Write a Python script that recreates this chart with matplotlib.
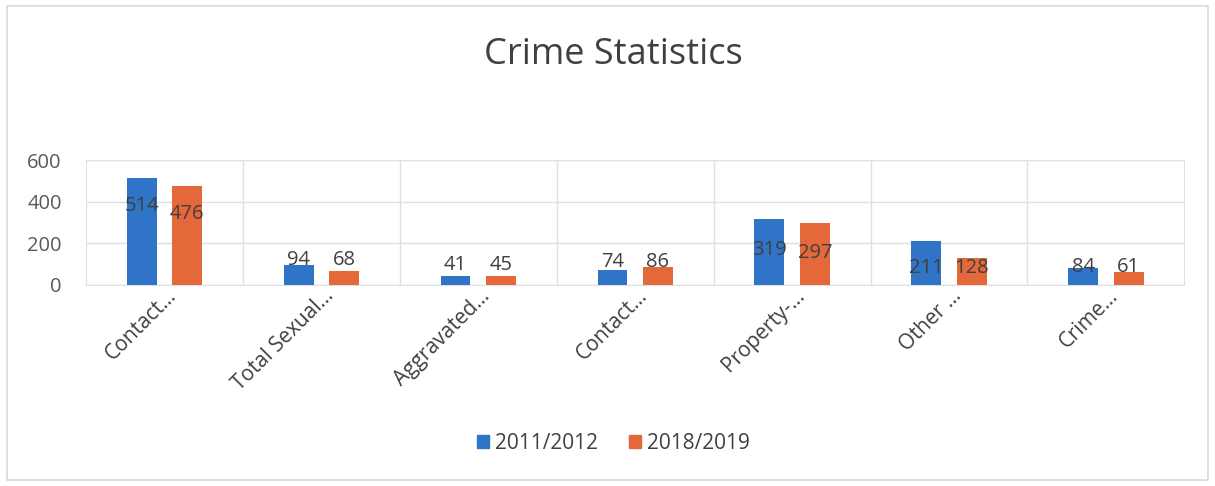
import matplotlib.pyplot as plt
import matplotlib.patches as mpatches
import matplotlib.transforms as mtransforms
import numpy as np

plt.rcParams["font.family"] = ["Open Sans", "DejaVu Sans"]

CATEGORIES = ["Contact...", "Total Sexual...", "Aggravated...", "Contact...",
              "Property-...", "Other ...", "Crime..."]
SERIES_2011 = [514, 94, 41, 74, 319, 211, 84]
SERIES_2018 = [476, 68, 45, 86, 297, 128, 61]
SERIES_NAMES = ["2011/2012", "2018/2019"]
COLORS = ["#2f74c6", "#e5683a"]
# vertical position of the value labels (data units)
LABEL_Y = [(381, 343), (119, 119), (95, 95), (110, 110), (167, 152), (81, 81), (86, 86)]

fig = plt.figure(figsize=(12.15, 4.86), dpi=100)
fig.patches.append(mpatches.Rectangle((0.006, 0.012), 0.988, 0.975, transform=fig.transFigure,
                                      fill=False, edgecolor="#d9d9d9", lw=1.2))
ax = fig.add_axes([0.0708, 0.4136, 0.904, 0.257])

x = np.arange(len(CATEGORIES))
w = 0.19
gap = 0.145
ax.bar(x - gap, SERIES_2011, w, color=COLORS[0], zorder=3)
ax.bar(x + gap, SERIES_2018, w, color=COLORS[1], zorder=3)
for i, (a, b) in enumerate(zip(SERIES_2011, SERIES_2018)):
    ax.text(i - gap, LABEL_Y[i][0], f"{a}", ha="center", va="center", fontsize=14.5,
            color="#404040", zorder=4)
    ax.text(i + gap, LABEL_Y[i][1], f"{b}", ha="center", va="center", fontsize=14.5,
            color="#404040", zorder=4)

ax.set_xlim(-0.5, len(CATEGORIES) - 0.5)
ax.set_ylim(0, 600)
ax.set_yticks([0, 200, 400, 600])
ax.grid(axis="y", color="#e0e0e0", lw=1, zorder=0)
for b in np.arange(0.5, len(CATEGORIES) - 0.5):
    ax.axvline(b, color="#e0e0e0", lw=1, zorder=0)
for s in ax.spines.values():
    s.set_color("#e0e0e0")

# category labels drawn by hand so they can sit right of the tick, Excel-style
ax.set_xticks(x)
ax.set_xticklabels([])
ax.tick_params(axis="x", length=0)
label_tf = ax.get_xaxis_transform() + mtransforms.ScaledTranslation(0.09, -0.08, fig.dpi_scale_trans)
for i, name in enumerate(CATEGORIES):
    ax.text(i, 0, name, transform=label_tf, rotation=45, ha="right", va="center",
            rotation_mode="anchor", fontsize=15, color="#404040", clip_on=False)
ax.tick_params(axis="y", length=0, labelsize=14.5, labelcolor="#595959", pad=17.5)

fig.text(0.505, 0.887, "Crime Statistics", ha="center", va="center", fontsize=26,
         color="#404040")

handles = [mpatches.Patch(color=c, label=n) for c, n in zip(COLORS, SERIES_NAMES)]
fig.legend(handles=handles, loc="center", bbox_to_anchor=(0.505, 0.088), ncol=2,
           frameon=False, fontsize=15, handlelength=0.55, handleheight=0.55,
           handletextpad=0.3, columnspacing=1.5, labelcolor="#404040")

fig.savefig("out.png", dpi=100, facecolor="white")
